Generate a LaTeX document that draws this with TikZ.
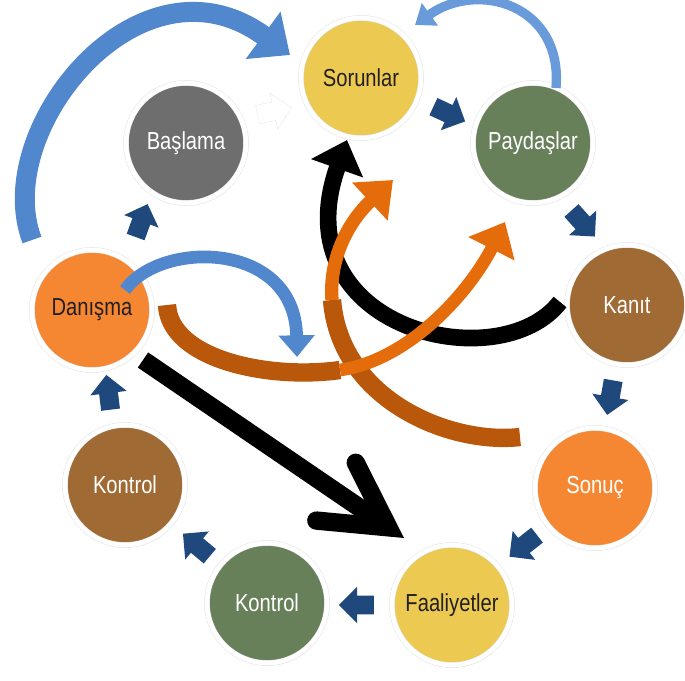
\documentclass[tikz,border=0pt]{standalone}
\usepackage{fontspec}
\setmainfont{Liberation Sans}[FakeStretch=0.82]
\usepackage{tikz}
\usetikzlibrary{shapes.geometric, shapes.arrows, arrows.meta, shadows}
\definecolor{sunYellow}{RGB}{236,202,82}
\definecolor{sageGreen}{RGB}{104,128,90}
\definecolor{slateGrey}{RGB}{110,110,110}
\definecolor{barkBrown}{RGB}{160,106,52}
\definecolor{tangerine}{RGB}{246,135,50}
\definecolor{hopBlue}{RGB}{31,73,125}
\definecolor{arcBlue}{RGB}{80,135,205}
\definecolor{skyBlue}{RGB}{105,155,218}
\definecolor{rustOrange}{RGB}{185,88,10}
\definecolor{flameOrange}{RGB}{228,108,10}
\definecolor{inkDark}{RGB}{35,31,32}
\tikzstyle{stage} = [circle, draw=black!12, line width=0.4pt, double=white, double distance=0.14cm, minimum size=3.6cm, inner sep=0pt, font=\fontsize{21}{24}\selectfont, text=white, drop shadow={opacity=0.22, shadow xshift=0.4mm, shadow yshift=-0.7mm}]
\tikzstyle{hop} = [single arrow, fill=hopBlue, minimum height=1.05cm, minimum width=1.1cm, single arrow head extend=0.26cm, inner xsep=0pt, inner ysep=0.27cm]

\begin{document}
\begin{tikzpicture}[x=0.03cm, y=-0.03cm]
    \useasboundingbox (0,0) rectangle (685,680);

    % Stages
    \node (sor) [stage, fill=sunYellow, text=inkDark] at (361,78) {Sorunlar};
    \node (pay) [stage, fill=sageGreen] at (533,143) {Paydaşlar};
    \node (bas) [stage, fill=slateGrey] at (186,143) {Başlama};
    \node (kan) [stage, fill=barkBrown] at (627,305) {Kanıt};
    \node (dan) [stage, fill=tangerine, text=inkDark] at (92,310) {Danışma};
    \node (son) [stage, fill=tangerine] at (595,488) {Sonuç};
    \node (faa) [stage, fill=sunYellow, text=inkDark] at (452,605) {Faaliyetler};
    \node (kon2) [stage, fill=sageGreen] at (267,603) {Kontrol};
    \node (kon1) [stage, fill=barkBrown] at (125,485) {Kontrol};

    % Small arrows round the ring
    \node (h0) [hop, fill=white, draw=black!8, line width=0.4pt, rotate=12] at (270,112) {};
    \node (h1) [hop, rotate=-25] at (445,112) {};
    \node (h2) [hop, rotate=-48] at (580,220) {};
    \node (h3) [hop, rotate=-100] at (611,393) {};
    \node (h4) [hop, rotate=218] at (527,543) {};
    \node (h5) [hop, rotate=180] at (361,605) {};
    \node (h6) [hop, rotate=140] at (200,548) {};
    \node (h7) [hop, rotate=97] at (109,397) {};
    \node (h8) [hop, rotate=70] at (140,225) {};

    % Free ends of the curved arrows
    \coordinate (aTail) at (32,240);   \coordinate (aTip) at (290,55);
    \coordinate (bTail) at (556,88);   \coordinate (bTip) at (415,25);
    \coordinate (cTail) at (125,290);  \coordinate (cTip) at (297,357);
    \coordinate (dTail) at (560,302);  \coordinate (dTip) at (347,140);
    \coordinate (eTail) at (520,437);  \coordinate (eMid) at (332,300);  \coordinate (eTip) at (393,180);
    \coordinate (fTail) at (167,305);  \coordinate (fMid) at (340,370);  \coordinate (fTip) at (505,222);
    \coordinate (gTail) at (143,360);  \coordinate (gTip) at (404,538);

    % Curved arrows
    \draw [line width=0.6cm, arcBlue, -{Triangle[length=1.0cm, width=1.7cm]}] (aTail) .. controls (-10,130) and (140,-55) .. (aTip);
    \draw [line width=0.28cm, skyBlue, -{Triangle[length=0.55cm, width=0.8cm]}] (bTail) .. controls (563,5) and (478,-20) .. (bTip);
    \draw [line width=0.38cm, arcBlue, -{Triangle[length=0.65cm, width=1.05cm]}] (cTail) .. controls (160,240) and (295,240) .. (cTip);
    \draw [line width=0.5cm, black, -{Triangle[length=0.9cm, width=1.6cm]}] (dTail) .. controls (500,380) and (280,330) .. (dTip);
    \draw [line width=0.55cm, rustOrange] (eTail) .. controls (450,445) and (340,400) .. (eMid);
    \draw [line width=0.4cm, flameOrange, -{Triangle[length=0.95cm, width=1.5cm]}] (eMid) .. controls (329,260) and (347,223) .. (eTip);
    \draw [line width=0.55cm, rustOrange] (fTail) .. controls (170,360) and (270,380) .. (fMid);
    \draw [line width=0.38cm, flameOrange, -{Triangle[length=0.9cm, width=1.5cm]}] (fMid) .. controls (410,360) and (470,291) .. (fTip);

    % Straight arrow
    \draw [line width=0.55cm, -{Straight Barb[length=1.9cm, width=2.1cm, line cap=round, line join=miter]}] (gTail) -- (gTip);
\end{tikzpicture}
\end{document}
